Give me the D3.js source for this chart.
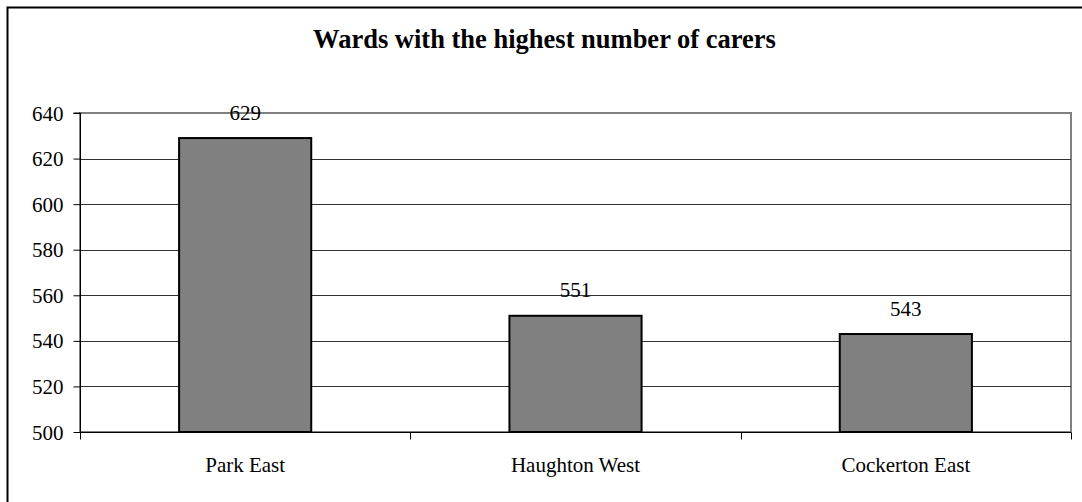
<!DOCTYPE html>
<html>
<head>
<meta charset="utf-8">
<script src="https://cdn.jsdelivr.net/npm/d3@7"></script>
<style>
  html, body { margin: 0; padding: 0; background: #fff; overflow: hidden; }
  svg { display: block; }
  svg text { font-family: "Liberation Serif", "Times New Roman", serif !important; fill: #000; }
</style>
</head>
<body>
<svg id="chart" width="1082" height="502"></svg>
<script>
const categories = ["Park East", "Haughton West", "Cockerton East"];
const values = [629, 551, 543];
const yTicks = [500, 520, 540, 560, 580, 600, 620, 640];
const title = "Wards with the highest number of carers";

const W = 1082, H = 502;
const plot = { left: 80, top: 113, right: 1071, bottom: 432 };
const SERIF = '"Liberation Serif", "Times New Roman", serif';

const svg = d3.select("#chart");

// outer frame: only top and left edges fall inside the picture
svg.append("path")
  .attr("d", `M7.5,${H}V7.5H${W}`)
  .attr("fill", "none").attr("stroke", "#000").attr("stroke-width", 2);

svg.append("text")
  .attr("x", (W + 7) / 2).attr("y", 48)
  .attr("text-anchor", "middle")
  .style("font-family", SERIF)
  .attr("font-size", 26.5).attr("font-weight", "bold")
  .text(title);

const x = d3.scaleBand().domain(categories).range([plot.left, plot.right]).padding(0);
const y = d3.scaleLinear().domain([500, 640]).range([plot.bottom, plot.top]);

// plot area border (gray)
svg.append("rect")
  .attr("x", plot.left).attr("y", plot.top)
  .attr("width", plot.right - plot.left).attr("height", plot.bottom - plot.top)
  .attr("fill", "#fff").attr("stroke", "#808080").attr("stroke-width", 2);

// gridlines
svg.append("g").selectAll("line")
  .data(yTicks.filter(t => t !== 500 && t !== 640))
  .join("line")
  .attr("x1", plot.left).attr("x2", plot.right)
  .attr("y1", d => Math.round(y(d)) + 0.5).attr("y2", d => Math.round(y(d)) + 0.5)
  .attr("stroke", "#333").attr("stroke-width", 1);

// bars
const barFrac = 0.4;
svg.append("g").selectAll("rect")
  .data(values)
  .join("rect")
  .attr("x", (d, i) => x(categories[i]) + x.bandwidth() * (1 - barFrac) / 2)
  .attr("y", d => y(d))
  .attr("width", x.bandwidth() * barFrac)
  .attr("height", d => y(500) - y(d))
  .attr("fill", "#808080").attr("stroke", "#000").attr("stroke-width", 2);

// value labels
svg.append("g").selectAll("text")
  .data(values)
  .join("text")
  .attr("x", (d, i) => x(categories[i]) + x.bandwidth() / 2)
  .attr("y", d => y(d) - 18.5)
  .attr("text-anchor", "middle")
  .style("font-family", SERIF)
  .attr("font-size", 21)
  .text(d => d);

// y axis
const yAxis = d3.axisLeft(y).tickValues(yTicks).tickSize(7).tickPadding(10);
const gy = svg.append("g").attr("transform", `translate(${plot.left + 0.5},0)`).call(yAxis);
gy.attr("font-family", null).attr("font-size", null);
gy.select(".domain").attr("stroke", "#000").attr("d", `M-7,${plot.top}H0V${plot.bottom}`);
gy.selectAll(".tick line").attr("stroke", "#000");
gy.selectAll(".tick text").style("font-family", SERIF).attr("font-size", 21).attr("fill", "#000").attr("dy", "0.34em");

// x axis
const xAxis = d3.axisBottom(x).tickSize(0).tickPadding(0);
const gx = svg.append("g").attr("transform", `translate(0,${plot.bottom + 0.5})`).call(xAxis);
gx.attr("font-family", null).attr("font-size", null);
gx.select(".domain").attr("stroke", "#000").attr("d", `M${plot.left},0H${plot.right}`);
gx.selectAll(".tick text").style("font-family", SERIF).attr("font-size", 21).attr("fill", "#000").attr("y", 39).attr("dy", 0);

// category boundary ticks
const bounds = [plot.left, ...categories.map(c => x(c) + x.bandwidth())];
gx.append("g").selectAll("line")
  .data(bounds)
  .join("line")
  .attr("x1", d => Math.round(d) + 0.5).attr("x2", d => Math.round(d) + 0.5)
  .attr("y1", 0).attr("y2", 7)
  .attr("stroke", "#000");
</script>
</body>
</html>
